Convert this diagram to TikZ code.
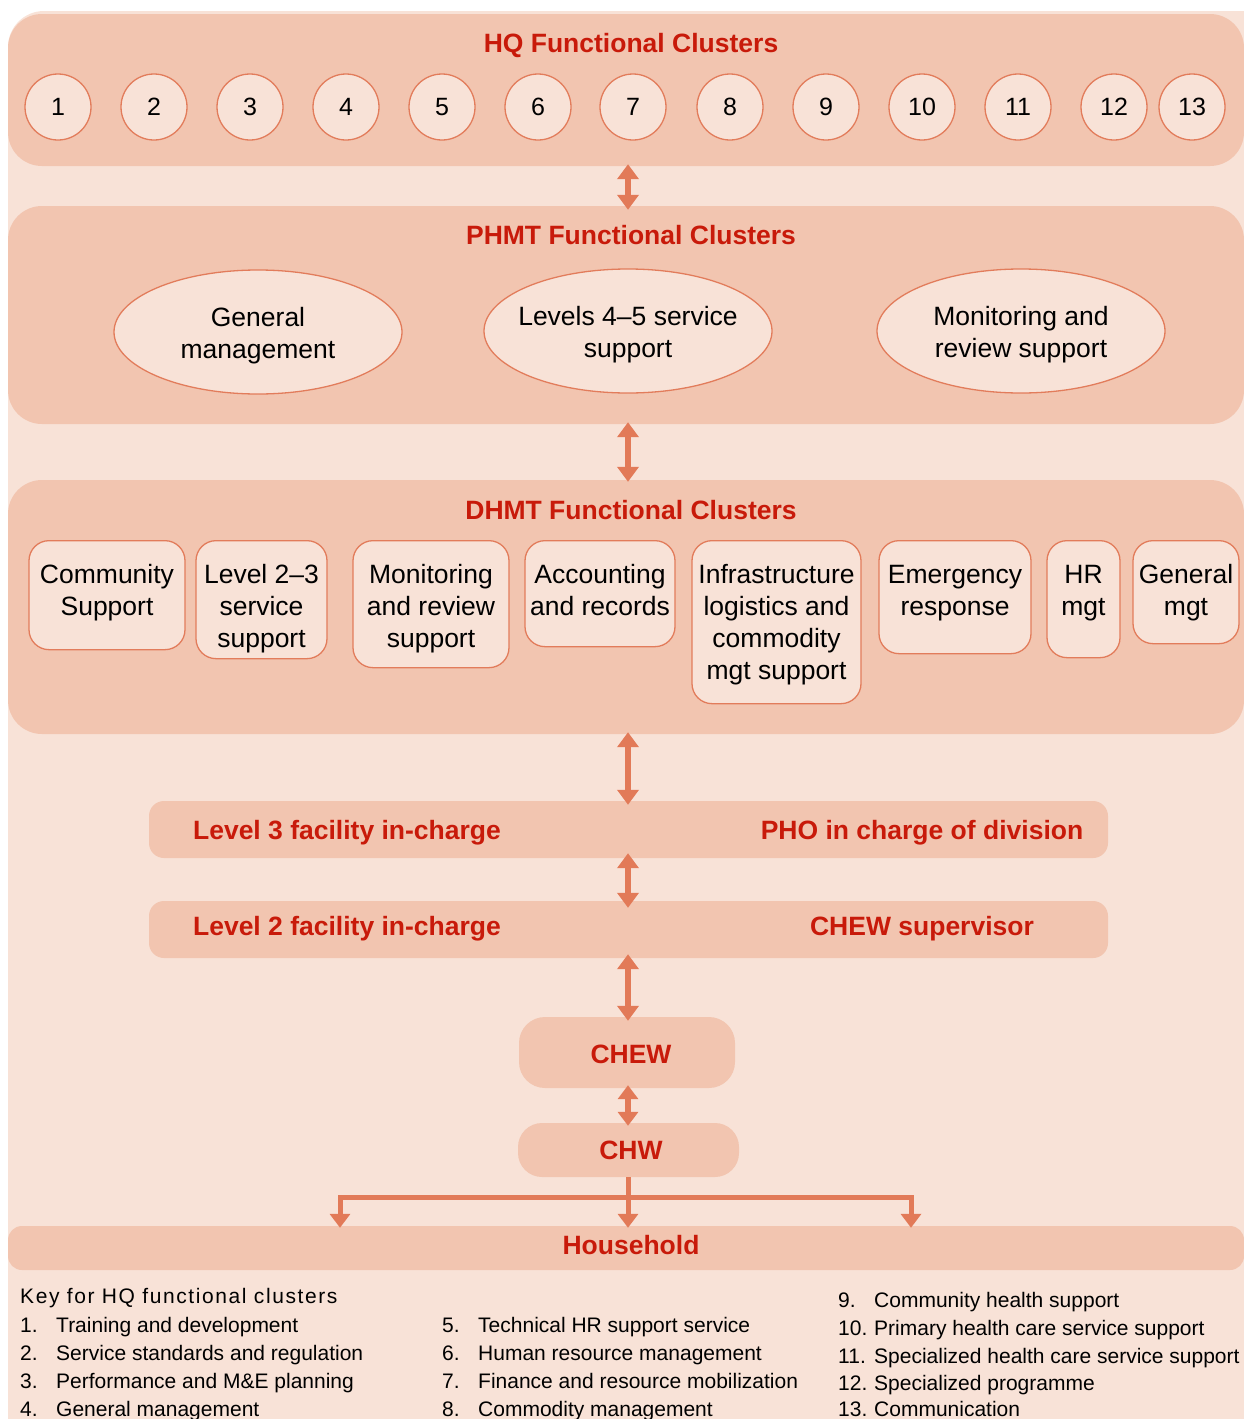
\documentclass[tikz,border=0pt]{standalone}
\usepackage{fontspec}
\setmainfont{Liberation Sans}
\usetikzlibrary{arrows.meta,shapes.geometric,calc}

\definecolor{bgpale}{HTML}{F8E2D7}
\definecolor{band}{HTML}{F2C5B0}
\definecolor{edge}{HTML}{E27C5B}
\definecolor{arrowc}{HTML}{E27A58}
\definecolor{titlered}{HTML}{C81A0A}

% text block of a DHMT cluster box: fixed size, lines set from the top
\newcommand\clusterbox[3]{\parbox[t][#2][t]{#1}{\centering\vspace*{20.6pt}\strut #3}}

\begin{document}
\begin{tikzpicture}[x=1pt,y=-1pt,
  bandbox/.style={fill=band, draw=none, rounded corners=34pt, inner sep=0pt},
  barbox/.style={fill=band, draw=none, rounded corners=15pt, inner sep=0pt},
  pillbox/.style={fill=band, draw=none, rounded corners=26pt, inner sep=0pt},
  title/.style={font=\bfseries\fontsize{26.5}{32}\selectfont, text=titlered, inner sep=0pt},
  numc/.style={circle, draw=edge, line width=1.3pt, fill=bgpale, minimum size=66pt,
    inner sep=0pt, font=\fontsize{25}{30}\selectfont},
  oval/.style={ellipse, draw=edge, line width=1.3pt, fill=bgpale, minimum width=288pt,
    minimum height=124pt, inner sep=0pt},
  ovaltext/.style={align=center, inner sep=0pt, font=\fontsize{26.5}{32}\selectfont},
  cbox/.style={rectangle, draw=edge, line width=1.3pt, fill=bgpale, rounded corners=20pt,
    inner sep=0pt, anchor=north, font=\fontsize{26.5}{32}\selectfont},
  link/.style={draw=arrowc, line width=6pt, >={Triangle[width=21pt,length=15pt]}, <->},
  branch/.style={draw=arrowc, line width=5pt},
  branchtip/.style={draw=arrowc, line width=5pt, >={Triangle[width=20pt,length=14pt]}, ->},
  keytext/.style={anchor=base west, inner sep=0pt, font=\fontsize{21}{28}\selectfont}]

\useasboundingbox (0,0) rectangle (1244,1419);

% page background
\fill[bgpale, rounded corners=36pt] (8,11) rectangle (1300,1480);

% ---------- HQ ----------
\node[bandbox, minimum width=1236pt, minimum height=152pt] (hq) at (626,90) {};
\node[title, anchor=base] (hqt) at (631,52) {HQ Functional Clusters};
\foreach \n/\x in {1/58,2/154,3/250,4/346,5/442,6/538,7/633,8/730,9/826,10/922,11/1018,12/1114,13/1192}
  \node[numc] (c\n) at (\x,107) {\n};

% ---------- PHMT ----------
\node[bandbox, minimum width=1236pt, minimum height=218pt] (phmt) at (626,315) {};
\node[title, anchor=base] (phmtt) at (631,244) {PHMT Functional Clusters};
\node[oval] (p1) at (258,332) {};
\node[oval] (p2) at (628,331) {};
\node[oval] (p3) at (1021,331) {};
\node[ovaltext] (p1t) at ($(p1.center)+(0,4)$) {General\\management};
\node[ovaltext] (p2t) at ($(p2.center)+(0,4)$) {Levels 4–5 service\\support};
\node[ovaltext] (p3t) at ($(p3.center)+(0,4)$) {Monitoring and\\review support};

% ---------- DHMT ----------
\node[bandbox, minimum width=1236pt, minimum height=254pt] (dhmt) at (626,607) {};
\node[title, anchor=base] (dhmtt) at (631,519) {DHMT Functional Clusters};
\node[cbox] (d1) at (107,540) {\clusterbox{156pt}{109pt}{Community\\Support}};
\node[cbox] (d2) at (261.5,540) {\clusterbox{131pt}{118pt}{Level 2–3\\service\\support}};
\node[cbox] (d3) at (431,540) {\clusterbox{156pt}{127pt}{Monitoring\\and review\\support}};
\node[cbox] (d4) at (600,540) {\clusterbox{150pt}{106pt}{Accounting\\and records}};
\node[cbox] (d5) at (776.5,540) {\clusterbox{169pt}{163pt}{Infrastructure\\logistics and\\commodity\\mgt support}};
\node[cbox] (d6) at (955,540) {\clusterbox{152pt}{113pt}{Emergency\\response}};
\node[cbox] (d7) at (1083.5,540) {\clusterbox{73pt}{117pt}{HR\\mgt}};
\node[cbox] (d8) at (1186,540) {\clusterbox{106pt}{103pt}{General\\mgt}};

% ---------- facility levels ----------
\node[barbox, minimum width=959pt, minimum height=57pt] (lv3) at (628.5,829.5) {};
\node[title, anchor=base] (lv3a) at (347,839) {Level 3 facility in-charge};
\node[title, anchor=base] (lv3b) at (922,839) {PHO in charge of division};

\node[barbox, minimum width=959pt, minimum height=57pt] (lv2) at (628.5,929.5) {};
\node[title, anchor=base] (lv2a) at (347,935) {Level 2 facility in-charge};
\node[title, anchor=base] (lv2b) at (922,935) {CHEW supervisor};

% ---------- community level ----------
\node[pillbox, minimum width=216pt, minimum height=71pt] (chew) at (627,1052.5) {};
\node[title, anchor=base] (chewt) at (631,1063) {CHEW};
\node[pillbox, minimum width=221pt, minimum height=54pt, rounded corners=24pt] (chw) at (628.5,1150) {};
\node[title, anchor=base] (chwt) at (631,1159) {CHW};

\node[fill=band, inner sep=0pt, minimum width=1236pt, minimum height=44pt,
      rounded corners=14pt] (hh) at (626,1248) {};
\node[title, anchor=base] (hht) at (631,1254) {Household};

% ---------- connectors ----------
\coordinate (ax) at (628,0);
\draw[link, shorten <=-2pt, shorten >=-4pt] (hq.south -| ax) -- (phmt.north -| ax);
\draw[link, shorten <=-2pt, shorten >=-2pt] (phmt.south -| ax) -- (dhmt.north -| ax);
\draw[link, shorten <=-2pt, shorten >=-4pt] (dhmt.south -| ax) -- (lv3.north -| ax);
\draw[link, shorten <=-5pt, shorten >=-7pt] (lv3.south -| ax) -- (lv2.north -| ax);
\draw[link, shorten <=-4pt, shorten >=-4pt] (lv2.south -| ax) -- (chew.north -| ax);
\draw[link, >={Triangle[width=20pt,length=14pt]}, shorten <=-3pt, shorten >=-3pt]
  (chew.south -| ax) -- (chw.north -| ax);

\coordinate (bl) at (340,1197);
\coordinate (br) at (911,1197);
\draw[branch, line cap=rect] (bl) -- (br);
\draw[branchtip, shorten >=-2pt] (bl) -- (bl |- hh.north);
\draw[branchtip, shorten >=-2pt] (br) -- (br |- hh.north);
\draw[branchtip, shorten >=-2pt] (chw.south -| ax) -- (hh.north -| ax);

% ---------- key ----------
\node[keytext, font=\fontsize{21}{28}\selectfont\addfontfeature{LetterSpace=7.5}] (keyt) at (20,1303) {Key for HQ functional clusters};
\foreach \n/\y/\t in {1/1332/Training and development,
                      2/1360/Service standards and regulation,
                      3/1388/Performance and M\&E planning,
                      4/1416/General management}{
  \node[keytext] (kn\n) at (20,\y) {\n.};
  \node[keytext] (k\n) at (56,\y) {\t};
}
\foreach \n/\y/\t in {5/1332/Technical HR support service,
                      6/1360/Human resource management,
                      7/1388/Finance and resource mobilization,
                      8/1416/Commodity management}{
  \node[keytext] (kn\n) at (442,\y) {\n.};
  \node[keytext] (k\n) at (478,\y) {\t};
}
\foreach \n/\y/\t in {9/1307/Community health support,
                      10/1335/Primary health care service support,
                      11/1363/Specialized health care service support,
                      12/1390/Specialized programme,
                      13/1416/Communication}{
  \node[keytext] (kn\n) at (838,\y) {\n.};
  \node[keytext] (k\n) at (874,\y) {\t};
}
\end{tikzpicture}
\end{document}
